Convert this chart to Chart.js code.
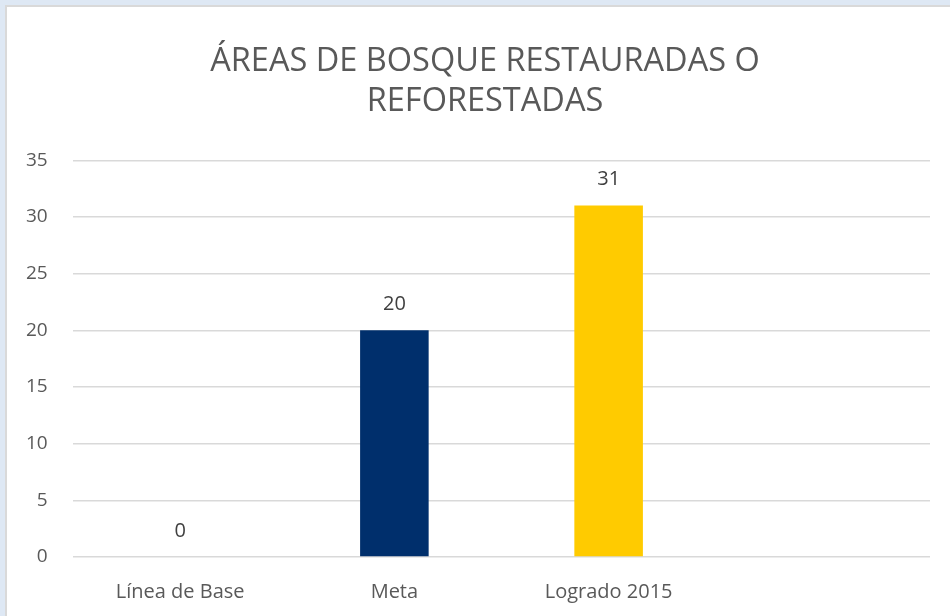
<!DOCTYPE html>
<html>
<head>
<meta charset="utf-8">
<script src="https://cdn.jsdelivr.net/npm/chart.js@4"></script>
<style>
  html, body { margin: 0; padding: 0; background: #dee8f4; }
  #card {
    position: absolute; left: 5px; top: 5px; width: 945px; height: 611px; overflow: hidden;
    background: #fff; border-left: 2px solid #d9d9d9; border-top: 2px solid #d9d9d9;
  }
  canvas { display: block; }
</style>
</head>
<body>
<div id="card"><canvas id="chart" width="943" height="609"></canvas></div>
<script>
const categories = ["Línea de Base", "Meta", "Logrado 2015", ""];
const values = [0, 20, 31, null];
const barColors = ["#002f6c", "#002f6c", "#ffcb00", "#ffcb00"];
const titleLines = ["ÁREAS DE BOSQUE RESTAURADAS O", "REFORESTADAS"];

// draws the value above each bar
const valueLabels = {
  id: "valueLabels",
  afterDatasetsDraw(chart) {
    const ctx = chart.ctx;
    const meta = chart.getDatasetMeta(0);
    ctx.save();
    ctx.font = "20px 'Open Sans'";
    ctx.fillStyle = "#404040";
    ctx.textAlign = "center";
    ctx.textBaseline = "middle";
    meta.data.forEach((bar, i) => {
      const v = values[i];
      if (v === null || v === undefined) return;
      ctx.fillText(String(v), bar.x, bar.y - 26);
    });
    ctx.restore();
  }
};

new Chart(document.getElementById("chart"), {
  type: "bar",
  data: {
    labels: categories,
    datasets: [{
      data: values,
      backgroundColor: barColors,
      barPercentage: 0.64,
      categoryPercentage: 0.5
    }]
  },
  plugins: [valueLabels],
  options: {
    responsive: false,
    animation: false,
    layout: { padding: { left: 33, right: 20, top: 14, bottom: -11 } },
    plugins: {
      legend: { display: false },
      tooltip: { enabled: false },
      title: {
        display: true,
        text: titleLines,
        color: "#595959",
        font: { family: "'Open Sans'", size: 32.5, weight: "normal", lineHeight: 1.25 },
        padding: { top: 20, bottom: 38 }
      }
    },
    scales: {
      x: {
        grid: { display: false, drawTicks: false },
        border: { display: false },
        ticks: { color: "#595959", font: { family: "'Open Sans'", size: 20 }, padding: 23 }
      },
      y: {
        min: 0,
        max: 35,
        grid: { color: "#d9d9d9", lineWidth: 1.5, drawTicks: false },
        border: { display: false },
        ticks: {
          stepSize: 5,
          color: "#595959",
          font: { family: "'Open Sans'", size: 19 },
          mirror: true,
          crossAlign: "far",
          padding: -47
        },
        afterFit(scale) { scale.width = 33; }
      }
    }
  }
});
</script>
</body>
</html>
